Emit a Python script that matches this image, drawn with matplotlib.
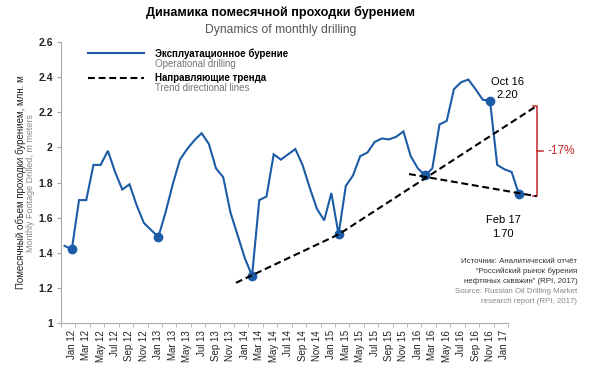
import matplotlib
matplotlib.use('Agg')
import matplotlib.pyplot as plt
from matplotlib.lines import Line2D

# data: monthly drilling, index 0 = Dec 11
drilling = [1.44, 1.42, 1.70, 1.70, 1.90, 1.90, 1.98, 1.86, 1.76, 1.79,
            1.67, 1.57, 1.53, 1.49, 1.63, 1.79, 1.93, 1.99, 2.04, 2.08,
            2.02, 1.88, 1.83, 1.63, 1.50, 1.37, 1.27, 1.70, 1.72, 1.96,
            1.93, 1.96, 1.99, 1.90, 1.77, 1.65, 1.585, 1.74, 1.505, 1.78,
            1.84, 1.95, 1.97, 2.03, 2.05, 2.045, 2.06, 2.09, 1.95, 1.88,
            1.84, 1.88, 2.13, 2.15, 2.33, 2.37, 2.385, 2.33, 2.27, 2.265,
            1.90, 1.875, 1.86, 1.735]
marked = [1, 13, 26, 38, 50, 59, 63]

trend_up_x = [23.77, 38, 65.48]
trend_up_y = [1.23, 1.505, 2.235]
trend_down_x = [47.77, 65.48]
trend_down_y = [1.848, 1.722]

bracket_x = 65.56
bracket_top = 2.235
bracket_bottom = 1.722

tick_labels = ['Jan 12', 'Mar 12', 'May 12', 'Jul 12', 'Sep 12', 'Nov 12',
               'Jan 13', 'Mar 13', 'May 13', 'Jul 13', 'Sep 13', 'Nov 13',
               'Jan 14', 'Mar 14', 'May 14', 'Jul 14', 'Sep 14', 'Nov 14',
               'Jan 15', 'Mar 15', 'May 15', 'Jul 15', 'Sep 15', 'Nov 15',
               'Jan 16', 'Mar 16', 'May 16', 'Jul 16', 'Sep 16', 'Nov 16',
               'Jan 17']
yticks = [1, 1.2, 1.4, 1.6, 1.8, 2, 2.2, 2.4, 2.6]
ytick_labels = ['1', '1.2', '1.4', '1.6', '1.8', '2', '2.2', '2.4', '2.6']

blue = '#1c5ba5'
red = '#c3262e'
grey = '#aaaaaa'

plt.rcParams['font.family'] = ['Liberation Sans', 'DejaVu Sans']

W, H = 600, 373
fig = plt.figure(figsize=(6, 3.73), dpi=100)

def fx(px):
    return px / W

def fy(py):
    return 1 - py / H

ax = fig.add_axes([fx(61), fy(323.3), fx(545) - fx(61), fy(41.7) - fy(323.3)])
ax.set_xlim(-0.5, 66.63)
ax.set_ylim(1, 2.6)

# series
x = list(range(len(drilling)))
ax.plot(x, drilling, color=blue, lw=1.5, solid_joinstyle='miter', zorder=3)
ax.plot(marked, [drilling[i] for i in marked], 'o', color=blue, ms=6, zorder=4)

# trend lines
ax.plot(trend_up_x, trend_up_y, color='black', lw=1.5, dashes=(3.3, 1.8), zorder=5)
ax.plot(trend_down_x, trend_down_y, color='black', lw=1.5, dashes=(3.3, 1.8), zorder=5)

# red bracket
bw = 0.64
ax.plot([bracket_x - bw, bracket_x, bracket_x, bracket_x - bw],
        [bracket_top, bracket_top, bracket_bottom, bracket_bottom],
        color=red, lw=1.1, clip_on=False, zorder=2)
mid = (bracket_top + bracket_bottom) / 2
ax.plot([bracket_x, bracket_x + 0.75], [mid, mid], color=red, lw=1.1, clip_on=False)
ax.text(bracket_x + 1.45, mid, '-17%', color=red, fontsize=8.5,
        ha='left', va='center')

# annotations
ax.text(61.4, 2.37, 'Oct 16', fontsize=8, ha='center', va='center')
ax.text(61.4, 2.295, '2.20', fontsize=8, ha='center', va='center')
ax.text(60.8, 1.586, 'Feb 17', fontsize=8, ha='center', va='center')
ax.text(60.8, 1.51, '1.70', fontsize=8, ha='center', va='center')

# axes styling
for s in ['top', 'right']:
    ax.spines[s].set_visible(False)
ax.spines['left'].set_color(grey)
ax.spines['bottom'].set_color(grey)
ax.spines['left'].set_linewidth(0.8)
ax.spines['bottom'].set_linewidth(0.8)
ax.spines['bottom'].set_bounds(-0.5, 61.5)

ax.set_yticks(yticks)
ax.set_yticklabels(ytick_labels, fontsize=7.5, fontweight='bold', color='#222222')
ax.tick_params(axis='y', length=3, color=grey, pad=3)

ax.set_xticks(range(1, 62, 2))
ax.set_xticklabels(tick_labels, rotation=90, fontsize=7, color='#222222')
ax.set_xticks([i - 0.5 for i in range(0, 63, 2)], minor=True)
ax.tick_params(axis='x', which='major', length=0, pad=5)
ax.tick_params(axis='x', which='minor', length=3, color=grey)

# y label, two lines
fig.text(fx(20.7), fy(182), 'Помесячный объем проходки бурением, млн. м',
         rotation=90, fontsize=7, color='#222222', ha='center', va='center')
fig.text(fx(30.2), fy(183), 'Monthly Footage Drilled, m meters',
         rotation=90, fontsize=6.5, color='#888888', ha='center', va='center')

# titles
fig.text(fx(281), fy(12), 'Динамика помесячной проходки бурением',
         fontsize=9.1, fontweight='bold', ha='center', va='center')
fig.text(fx(281), fy(30), 'Dynamics of monthly drilling',
         fontsize=8.7, color='#555555', ha='center', va='center')

# legend drawn by hand
fig.add_artist(Line2D([fx(88), fx(144)], [fy(53.3), fy(53.3)], color=blue, lw=1.5))
fig.add_artist(Line2D([fx(88), fx(144)], [fy(78.3), fy(78.3)], color='black',
                      lw=1.5, dashes=(3.3, 1.8)))
fig.text(fx(155), fy(53.3), 'Эксплуатационное бурение', fontsize=7,
         fontweight='bold', ha='left', va='center')
fig.text(fx(155), fy(63.7), 'Operational drilling', fontsize=7,
         color='#777777', ha='left', va='center')
fig.text(fx(155), fy(78.3), 'Направляющие тренда', fontsize=7,
         fontweight='bold', ha='left', va='center')
fig.text(fx(155), fy(88.3), 'Trend directional lines', fontsize=7,
         color='#777777', ha='left', va='center')

# source
src_dark = ['Источник: Аналитический отчёт',
            '\u201cРоссийский рынок бурения',
            'нефтяных скважин\u201d (RPI, 2017)']
src_light = ['Source: Russian Oil Drilling Market',
             'research report (RPI, 2017)']
yy = 261.7
for t in src_dark:
    fig.text(fx(577.3), fy(yy), t, fontsize=5.7, color='#333333',
             ha='right', va='center')
    yy += 9.85
for t in src_light:
    fig.text(fx(577.3), fy(yy), t, fontsize=5.7, color='#888888',
             ha='right', va='center')
    yy += 9.85

fig.savefig('out.png', dpi=100)
